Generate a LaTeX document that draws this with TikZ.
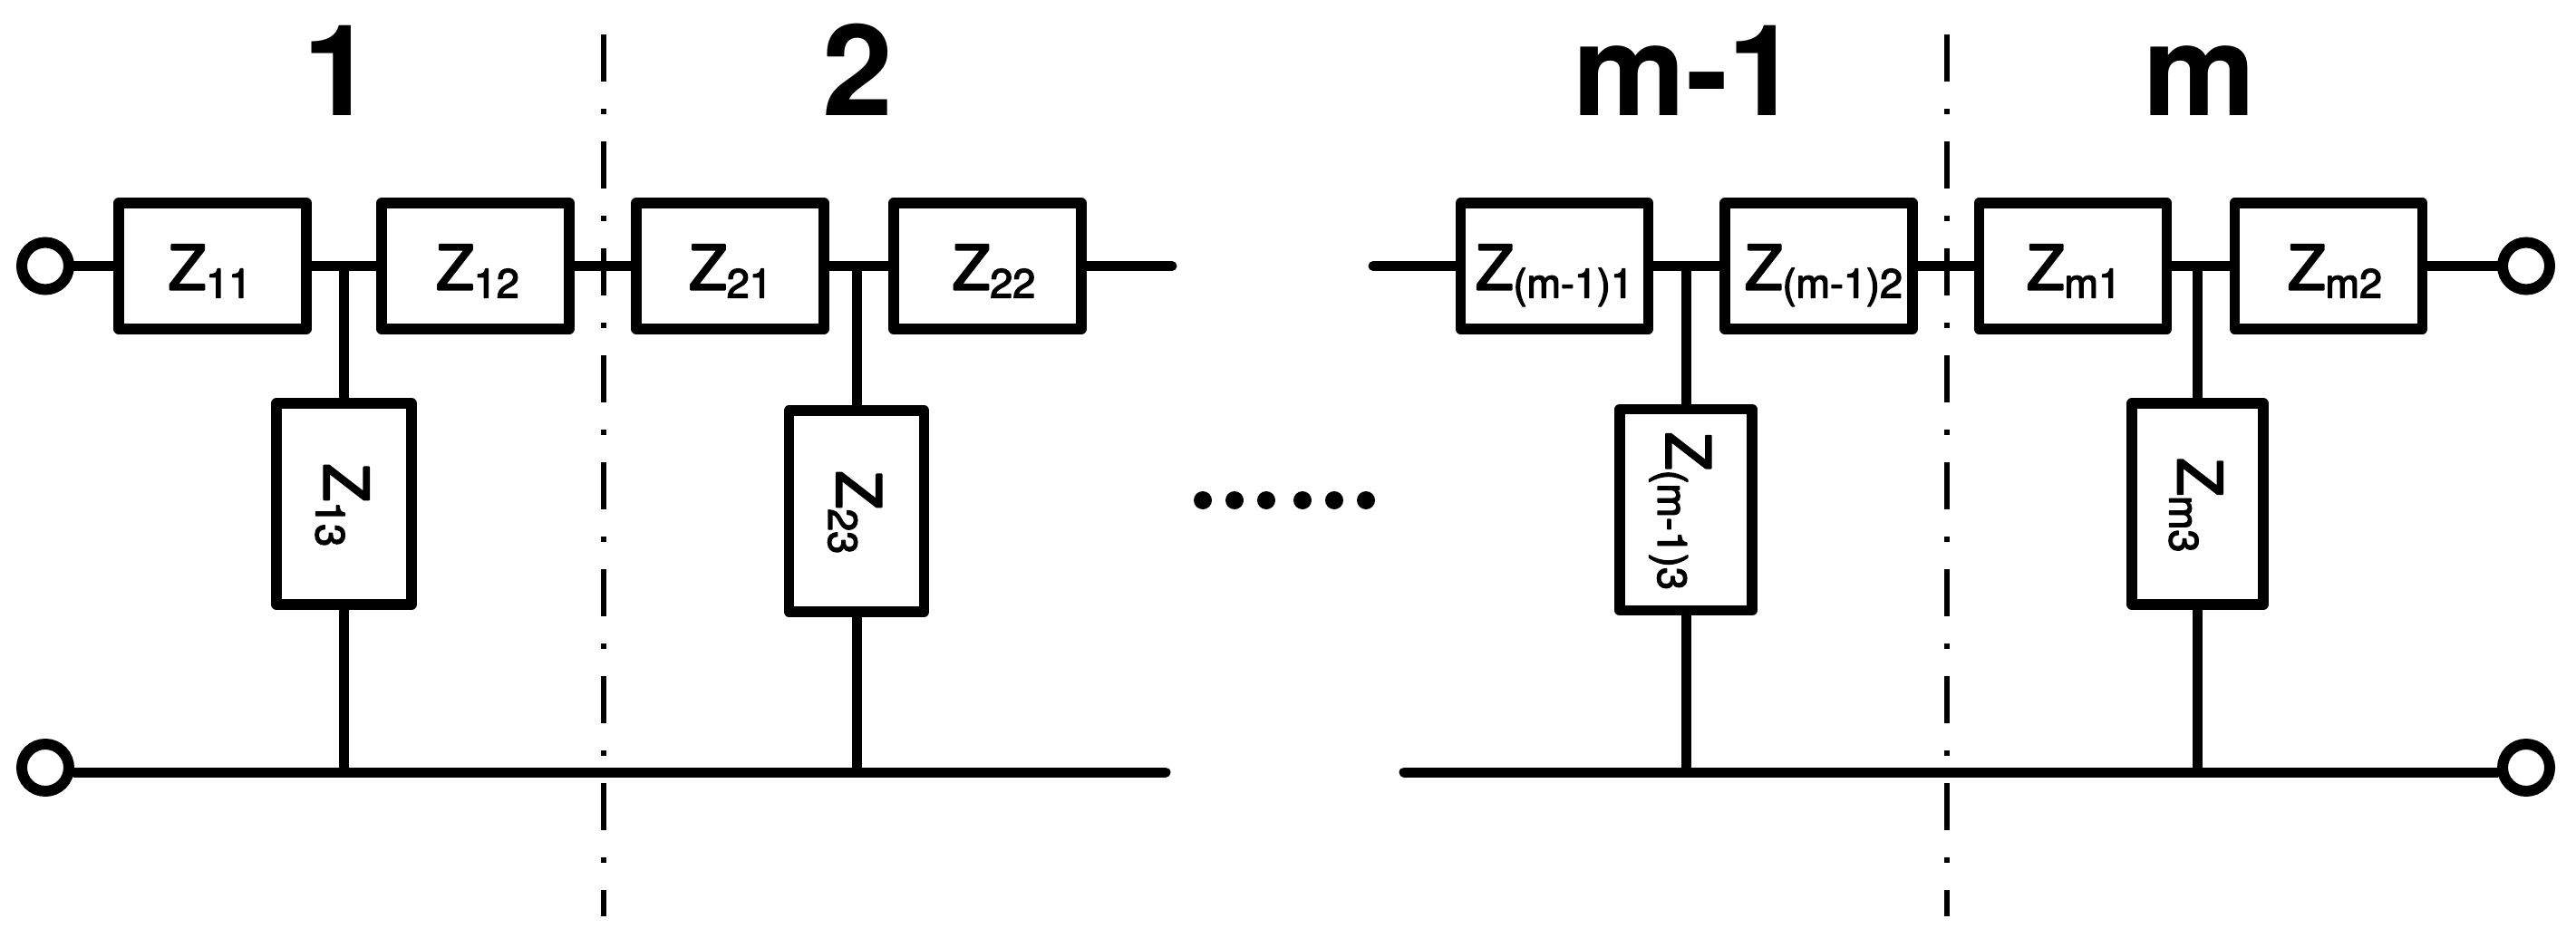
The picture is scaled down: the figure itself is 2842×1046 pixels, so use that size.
\documentclass[tikz,border=0pt]{standalone}
\usepackage{fontspec}
\setmainfont{TeX Gyre Heros}
\newfontfamily\zfont{TeX Gyre Heros}[FakeBold=3]
% Z with subscript; the optional kern nudges the text off the box centre
\newcommand{\zsym}[1]{{\zfont\fontsize{68}{70}\selectfont Z}\raisebox{-9pt}{\zfont\fontsize{45}{47}\selectfont #1}}
\newcommand{\zlab}[2][0pt]{\raisebox{-26pt}[0pt][0pt]{\kern#1\zsym{#2}}}
\newcommand{\zrot}[2][3pt]{\rotatebox{-90}{\raisebox{-22pt}[0pt][0pt]{\kern#1\zsym{#2}}}}
\begin{document}
\begin{tikzpicture}[x=1pt,y=-1pt,
    wire/.style={line width=11pt,line cap=round},
    hbox/.style={draw,line width=11.5pt,line join=round,minimum width=207pt,minimum height=139pt,inner sep=0pt},
    vbox/.style={draw,line width=11.5pt,line join=round,minimum height=222pt,inner sep=0pt},
    term/.style={circle,draw,line width=12pt,minimum size=52pt,inner sep=0pt},
    sect/.style={font=\fontsize{140}{145}\bfseries\selectfont,inner sep=0pt,anchor=base},
    cutline/.style={line width=5.5pt,dash pattern=on 52pt off 30pt on 6pt off 30pt},
    dot/.style={circle,fill=black,minimum size=20pt,inner sep=0pt},
  ]
  \useasboundingbox (0,0) rectangle (2842,1046);

  % section cuts
  \coordinate (c1a) at (666,38);   \coordinate (c1b) at (666,1011);
  \coordinate (c2a) at (2148,38);  \coordinate (c2b) at (2148,1011);
  \draw[cutline] (c1a) -- (c1b);
  \draw[cutline] (c2a) -- (c2b);

  % section numbers
  \node[sect] (s1) at (373,128) {1};
  \node[sect] (s2) at (946,128) {2};
  \node[sect] (s3) at (1860,128) {m-1};
  \node[sect] (s4) at (2427,128) {m};

  % series arms
  \node[hbox] (z11) at (234.5,293.5) {\zlab[-6pt]{11}};
  \node[hbox] (z12) at (524.5,293.5) {\zlab[5pt]{12}};
  \node[hbox] (z21) at (805.5,293.5) {\zlab[1pt]{21}};
  \node[hbox] (z22) at (1089.5,293.5) {\zlab[14pt]{22}};
  \node[hbox] (z31) at (1715,293.5) {\zlab{(m-1)1}};
  \node[hbox] (z32) at (2006.5,293.5) {\zlab[11pt]{(m-1)2}};
  \node[hbox] (z41) at (2287,293.5) {\zlab[2pt]{m1}};
  \node[hbox] (z42) at (2569,293.5) {\zlab[14pt]{m2}};

  % shunt arms
  \node[vbox,minimum width=149pt] (z13) at (379.5,556) {\zrot{13}};
  \node[vbox,minimum width=149pt] (z23) at (945,564) {\zrot{23}};
  \node[vbox,minimum width=146pt] (z33) at (1860,562.5) {\zrot{(m-1)3}};
  \node[vbox,minimum width=145pt] (z43) at (2424.5,556) {\zrot{m3}};

  % terminals
  \node[term] (tl) at (50,293.5) {};
  \node[term] (tr) at (2787,293.5) {};
  \node[term] (bl) at (50,847) {};
  \node[term] (br) at (2787,847) {};

  % free wire ends and junctions
  \coordinate (e1) at (1293,293.5);
  \coordinate (e2) at (1515,293.5);
  \coordinate (e3) at (1286,852);
  \coordinate (e4) at (1549,852);
  \coordinate (j1) at (z13 |- z11);
  \coordinate (j2) at (z23 |- z21);
  \coordinate (j3) at (z33 |- z31);
  \coordinate (j4) at (z43 |- z41);
  \coordinate (f1) at (z13 |- e3);
  \coordinate (f2) at (z23 |- e3);
  \coordinate (f3) at (z33 |- e3);
  \coordinate (f4) at (z43 |- e3);

  \draw[wire] (tl) -- (z11);
  \draw[wire] (z11) -- (z12);
  \draw[wire] (z12) -- (z21);
  \draw[wire] (z21) -- (z22);
  \draw[wire] (z22) -- (e1);
  \draw[wire] (e2) -- (z31);
  \draw[wire] (z31) -- (z32);
  \draw[wire] (z32) -- (z41);
  \draw[wire] (z41) -- (z42);
  \draw[wire] (z42) -- (tr);

  \draw[wire] (j1) -- (z13);
  \draw[wire] (j2) -- (z23);
  \draw[wire] (j3) -- (z33);
  \draw[wire] (j4) -- (z43);
  \draw[wire] (z13) -- (f1);
  \draw[wire] (z23) -- (f2);
  \draw[wire] (z33) -- (f3);
  \draw[wire] (z43) -- (f4);

  \draw[wire] (bl.east |- e3) -- (e3);
  \draw[wire] (e4) -- (br.west |- e4);

  % dots between sections
  \foreach \i/\x in {1/1327,2/1362,3/1397,4/1437,5/1472,6/1507}
    \node[dot] (d\i) at (\x,552) {};
\end{tikzpicture}
\end{document}
